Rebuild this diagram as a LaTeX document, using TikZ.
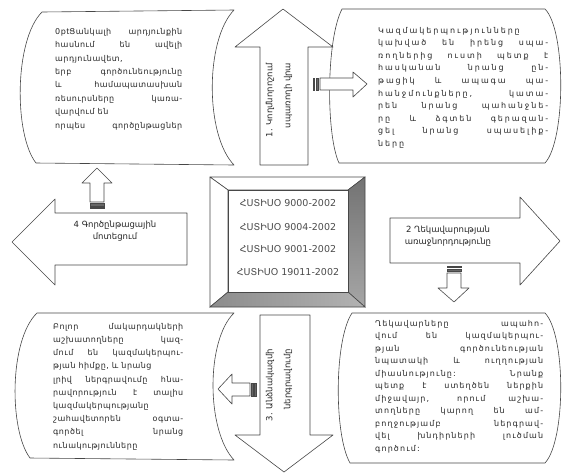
\documentclass[tikz,border=0pt]{standalone}
\usepackage{fontspec}
\setmainfont{DejaVu Sans}
\newfontfamily\lsTL[LetterSpace=6]{DejaVu Sans}
\newfontfamily\lsTR[LetterSpace=24]{DejaVu Sans}
\newfontfamily\lsBL[LetterSpace=6]{DejaVu Sans}
\newfontfamily\lsBR[LetterSpace=14]{DejaVu Sans}
\begin{document}
\begin{tikzpicture}[x=1pt,y=-1pt,
  shp/.style={draw=black!72,line width=0.6pt,fill=white,line join=round},
  txt/.style={inner sep=0pt,anchor=north west,align=justify,text=black!85},
  atxt/.style={inner sep=0pt,align=center,text=black!85,font=\fontsize{8.5}{12.5}\selectfont},
  rtxt/.style={inner sep=0pt,align=right,rotate=90,text=black!85,font=\fontsize{8.5}{18}\selectfont},
  ctxt/.style={inner sep=0pt,text=black!70,font=\fontsize{9.5}{11}\selectfont},
  stripe/.style={fill=black!60,draw=black!72,line width=0.4pt}
]
\useasboundingbox (0,0) rectangle (562,475);
\fill[white] (0,0) rectangle (562,475);

% ---- four text boxes
\draw[shp] (42,12) -- (234,10) .. controls (205,40) and (205,135) .. (234,165) -- (36,163) .. controls (14,135) and (14,40) .. (42,12) -- cycle;
\draw[shp] (342,9) -- (545,9) .. controls (566,30) and (566,140) .. (545,163) -- (339,163) .. controls (326,135) and (326,40) .. (342,9) -- cycle;
\draw[shp] (37,313) -- (234,313) .. controls (206,340) and (206,430) .. (234,460) -- (30,458) .. controls (9,430) and (9,340) .. (37,313) -- cycle;
\draw[shp] (352,313) -- (545,313) .. controls (566,335) and (566,440) .. (545,463) -- (350,463) .. controls (334,435) and (334,340) .. (352,313) -- cycle;

% ---- big arrows
\draw[shp] (260,165) -- (260,47) -- (235,47) -- (283,9) -- (333,47) -- (308,47) -- (308,165) -- cycle;
\draw[shp] (260,315) -- (260,435) -- (235,435) -- (284,472) -- (333,435) -- (310,435) -- (310,315) -- cycle;
\draw[shp] (187,213) -- (55,213) -- (55,199) -- (12,242) -- (55,285) -- (55,265) -- (187,265) -- cycle;
\draw[shp] (390,218) -- (520,218) -- (520,197) -- (560,241) -- (520,285) -- (520,263) -- (390,263) -- cycle;

% ---- small striped arrows
% right (top)
\draw[stripe] (313,78) rectangle (314.5,90);
\draw[stripe] (316,78) rectangle (318.5,90);
\draw[shp] (320,78) -- (353,78) -- (353,72) -- (367,84) -- (353,97) -- (353,90) -- (320,90) -- cycle;
% down (right)
\draw[stripe] (447,266) rectangle (461,267.5);
\draw[stripe] (447,269) rectangle (461,271.5);
\draw[shp] (447,273) -- (447,288) -- (438,288) -- (454,302) -- (469,288) -- (461,288) -- (461,273) -- cycle;
% left (bottom)
\draw[stripe] (254.5,383) rectangle (256,396);
\draw[stripe] (251,383) rectangle (253.5,396);
\draw[shp] (250,383) -- (232,383) -- (232,374) -- (218,389) -- (232,404) -- (232,396) -- (250,396) -- cycle;
% up (left)
\draw[stripe] (90,207) rectangle (104,208.5);
\draw[stripe] (90,203.5) rectangle (104,206);
\draw[shp] (90,202) -- (90,183) -- (82,183) -- (97,168) -- (112,183) -- (104,183) -- (104,202) -- cycle;

% ---- centre bevelled frame
\draw[shp] (210,177) -- (365,177) -- (348,190) -- (228,190) -- cycle;
\draw[shp] (210,177) -- (228,190) -- (228,292) -- (210,307) -- cycle;
\shade[top color=black!55,bottom color=black!35,draw=black!72,line width=0.6pt] (365,177) -- (365,307) -- (348,292) -- (348,190) -- cycle;
\shade[left color=black!45,right color=black!30,draw=black!72,line width=0.6pt] (210,307) -- (365,307) -- (348,292) -- (228,292) -- cycle;
\draw[shp] (228,190) rectangle (348,292);

\node[ctxt] (s1) at (288,203) {ՀՍՏԻՍՕ 9000-2002};
\node[ctxt] (s2) at (288,227) {ՀՍՏԻՍՕ 9004-2002};
\node[ctxt] (s3) at (288,249) {ՀՍՏԻՍՕ 9001-2002};
\node[ctxt] (s4) at (288,272) {ՀՍՏԻՍՕ 19011-2002};

% ---- arrow labels
\node[rtxt] (a1) at (279,100) {1. Կողմնորոշում\\սպառողի վրա};
\node[atxt] (a2) at (448,236) {2 Ղեկավարության\\առաջնորդությունը};
\node[rtxt] (a3) at (279,385) {3. Անձնակազմի\\ներգրավումը};
\node[atxt] (a4) at (115,231) {4 Գործընթացային\\մոտեցում};

% ---- box texts
\node[txt,text width=127pt,font=\lsTL\fontsize{8}{13.4}\selectfont\parfillskip=0pt] (tl) at (55,28) {Ցանկալի արդյունքին\linebreak
հասնում են ավելի\linebreak
արդյունավետ,\\
երբ գործունեությունը\linebreak
և համապատասխան\linebreak
ռեսուրսները կառա-\linebreak
վարվում են\\
որպես գործընթացներ};

\node[txt,text width=170pt,font=\lsTR\fontsize{8}{12.55}\selectfont] (tr) at (378,27) {Կազմակերպությունները\linebreak
կախված են իրենց սպա-\linebreak
ռողներից ուստի պետք է\linebreak
հասկանան նրանց ըն-\linebreak
թացիկ և ապագա պա-\linebreak
հանջմունքները, կատա-\linebreak
րեն նրանց պահանջնե-\linebreak
րը և ձգտեն գերազան-\linebreak
ցել նրանց սպասելիք-\linebreak
ները};

\node[txt,text width=130pt,font=\lsBL\fontsize{8}{13.2}\selectfont] (bl) at (53,323) {Բոլոր մակարդակների\linebreak
աշխատողները կազ-\linebreak
մում են կազմակերպու-\linebreak
թյան հիմքը, և նրանց\\
լրիվ ներգրավումը հնա-\linebreak
րավորություն է տալիս\linebreak
կազմակերպությանը\\
շահավետորեն օգտա-\linebreak
գործել նրանց\linebreak
ունակությունները};

\node[txt,text width=168pt,font=\lsBR\fontsize{8}{12.5}\selectfont] (br) at (375,320) {Ղեկավարները ապահո-\linebreak
վում են կազմակերպու-\linebreak
թյան գործունեության\linebreak
նպատակի և ուղղության\linebreak
միասնությունը: Նրանք\linebreak
պետք է ստեղծեն ներքին\linebreak
միջավայր, որում աշխա-\linebreak
տողները կարող են ամ-\linebreak
բողջությամբ ներգրավ-\linebreak
վել խնդիրների լուծման\linebreak
գործում:};
\end{tikzpicture}
\end{document}
